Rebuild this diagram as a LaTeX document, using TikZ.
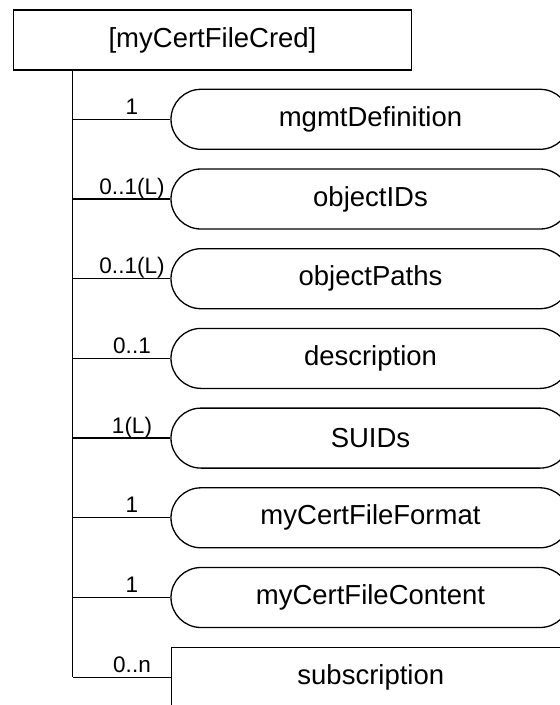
\documentclass[tikz,border=0pt]{standalone}
\usepackage{fontspec}
\setmainfont{Liberation Sans}
\begin{document}
\begin{tikzpicture}[x=1pt,y=-1pt,
  line width=1.3pt,
  main/.style={font=\fontsize{27.5}{32}\selectfont},
  topbox/.style={draw, main, minimum width=398.3pt, minimum height=60pt, inner sep=0pt, anchor=north west},
  pill/.style={draw, main, rounded corners=30pt, minimum width=399pt, minimum height=60pt, inner sep=0pt},
  subbox/.style={draw, main, minimum width=398.3pt, minimum height=60pt, inner sep=0pt},
  mult/.style={font=\fontsize{22.5}{26}\selectfont, anchor=base, inner sep=0pt},
  conn/.style={draw}
]
\useasboundingbox (0,0) rectangle (560,705);
\clip (0,0) rectangle (560,705);
\node[topbox] (top) at (12.7,9.3) {[myCertFileCred]};
\coordinate (t0) at ([xshift=60pt]top.south west);

\node[pill] (p1) at (370.5,119.3) {mgmtDefinition};
\node[pill] (p2) at (370.5,199.0) {objectIDs};
\node[pill] (p3) at (370.5,278.7) {objectPaths};
\node[pill] (p4) at (370.5,358.4) {description};
\node[pill] (p5) at (370.5,438.1) {SUIDs};
\node[pill] (p6) at (370.5,517.8) {myCertFileFormat};
\node[pill] (p7) at (370.5,597.5) {myCertFileContent};
\node[subbox] (sub) at (370.8,677.2) {subscription};

\draw[conn] (t0) -- (t0 |- sub.west);
\foreach \n/\lab in {p1/1, p2/0..1(L), p3/0..1(L), p4/0..1, p5/1(L), p6/1, p7/1, sub/0..n}{
  \draw[conn] (t0 |- \n.west) -- (\n.west);
  \node[mult] (lab-\n) at ([yshift=5pt]132,0 |- \n.west) {\lab};
}
\end{tikzpicture}
\end{document}
